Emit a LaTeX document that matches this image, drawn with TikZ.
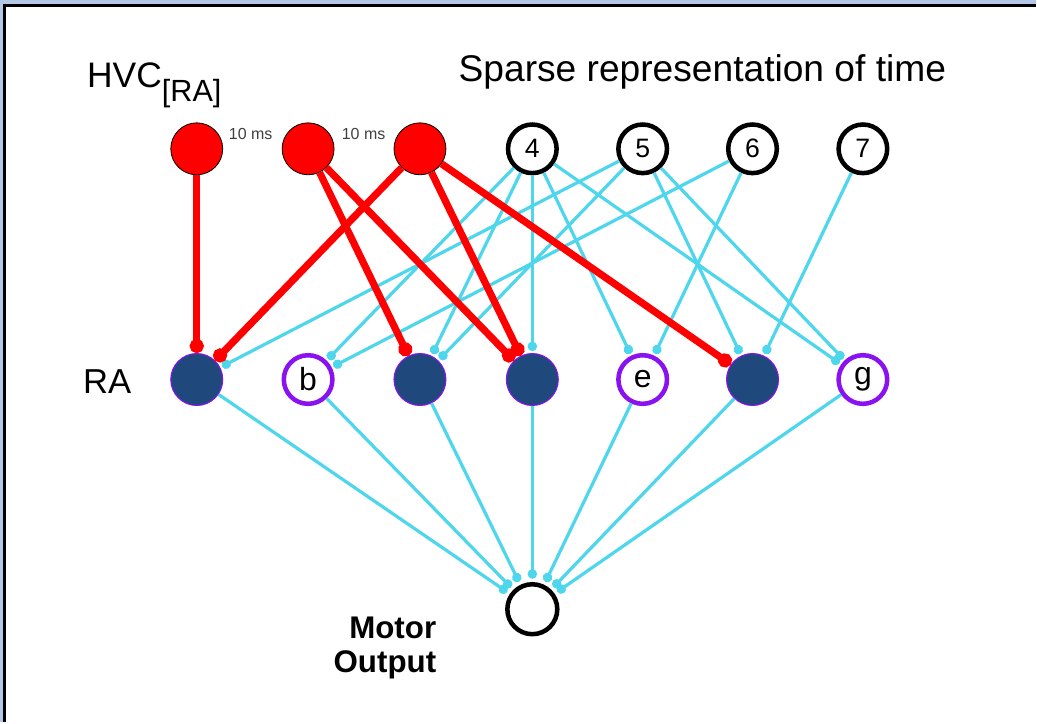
\documentclass[tikz,border=0pt]{standalone}
\usepackage{fontspec}
\setmainfont{Liberation Sans}
\usepackage{tikz}
\usetikzlibrary{arrows.meta}
\usepackage{xcolor}
\definecolor{framebg}{HTML}{B4C7E7}
\definecolor{syncyan}{HTML}{4ED6EC}
\definecolor{ranavy}{HTML}{1F497D}
\definecolor{rapurple}{HTML}{8A12F0}
\tikzstyle{txt} = [inner sep=0pt]
\tikzstyle{hvcon} = [circle, inner sep=0pt, minimum size=39pt, fill=red, draw=black, line width=0.6pt]
\tikzstyle{hvcoff} = [circle, inner sep=0pt, minimum size=36.5pt, draw=black, line width=3.4pt, font=\fontsize{20}{20}\selectfont]
\tikzstyle{raon} = [circle, inner sep=0pt, minimum size=39pt, fill=ranavy, draw=rapurple, line width=0.8pt]
\tikzstyle{raoff} = [circle, inner sep=0pt, minimum size=36.5pt, draw=rapurple, line width=3.4pt, font=\fontsize{24}{24}\selectfont]
\tikzstyle{motor} = [circle, inner sep=0pt, minimum size=37.5pt, draw=black, line width=3.4pt]
\tikzstyle{strong} = [line width=5.4pt, red, -{Circle[length=10.5pt]}]
\tikzstyle{weak} = [line width=2.4pt, syncyan, -{Circle[length=7pt]}, shorten >=1.5pt]

\begin{document}
\begin{tikzpicture}[x=0.75pt, y=-0.75pt]
        % frame
        \fill [framebg] (0,0) rectangle (1037,723);
        \fill [white] (5,6) rectangle (1037,723);
        \draw [line width=2pt] (4.5,723) -- (4.5,5.7) -- (1037,5.7);
        \useasboundingbox (0,0) rectangle (1037,723);

        % HVC(RA) neurons
        \node (hvc1) [hvcon] at (197,149) {};
        \node (hvc2) [hvcon] at (308.5,149) {};
        \node (hvc3) [hvcon] at (420.5,149) {};
        \node (hvc4) [hvcoff] at (533,149) {4};
        \node (hvc5) [hvcoff] at (643.5,149) {5};
        \node (hvc6) [hvcoff] at (753.5,149) {6};
        \node (hvc7) [hvcoff] at (864,149) {7};

        % RA neurons
        \node (raA) [raon] at (197,380) {};
        \node (raB) [raoff] at (308.5,380) {b};
        \node (raC) [raon] at (420.5,380) {};
        \node (raD) [raon] at (533,380) {};
        \node (raE) [raoff] at (643.5,380) {e};
        \node (raF) [raon] at (753.5,380) {};
        \node (raG) [raoff] at (864,380) {g};

        \node (out) [motor] at (533,610) {};

        % labels
        \node (hvclabel) [txt, anchor=base west, font=\fontsize{26.6}{30}\selectfont] at (87,88) {HVC\raisebox{-10.5pt}{\fontsize{23}{23}\selectfont[RA]}};
        \node (title) [txt, anchor=base west, font=\fontsize{27.9}{32}\selectfont] at (459,82) {Sparse representation of time};
        \node (ralabel) [txt, anchor=base west, font=\fontsize{26}{30}\selectfont] at (83,394) {RA};
        \node (outlabel) [txt, anchor=north east, align=right, font=\bfseries\fontsize{23.5}{26.25}\selectfont] at (437,617) {Motor\\Output};
        \node (gap1) [txt, anchor=base west, text=black!75, font=\fontsize{12}{12}\selectfont] at (229,140) {10 ms};
        \node (gap2) [txt, anchor=base west, text=black!75, font=\fontsize{12}{12}\selectfont] at (342,140) {10 ms};

        % weak synapses
        \draw [weak] (hvc4) -- (raB);
        \draw [weak] (hvc4) -- (raC);
        \draw [weak] (hvc4) -- (raD);
        \draw [weak] (hvc4) -- (raE);
        \draw [weak] (hvc4) -- (raG);
        \draw [weak] (hvc5) -- (raA);
        \draw [weak] (hvc5) -- (raC);
        \draw [weak] (hvc5) -- (raF);
        \draw [weak] (hvc5) -- (raG);
        \draw [weak] (hvc6) -- (raB);
        \draw [weak] (hvc6) -- (raE);
        \draw [weak] (hvc7) -- (raF);

        % strong synapses
        \draw [strong] (hvc1) -- (raA);
        \draw [strong] (hvc3) -- (raA);
        \draw [strong] (hvc2) -- (raC);
        \draw [strong] (hvc2) -- (raD);
        \draw [strong] (hvc3) -- (raD);
        \draw [strong] (hvc3) -- (raF);

        % RA to motor output
        \draw [weak, shorten >=2.5pt] (raA) -- (out);
        \draw [weak, shorten >=2.5pt] (raB) -- (out);
        \draw [weak, shorten >=2.5pt] (raC) -- (out);
        \draw [weak, shorten >=2.5pt] (raD) -- (out);
        \draw [weak, shorten >=2.5pt] (raE) -- (out);
        \draw [weak, shorten >=2.5pt] (raF) -- (out);
        \draw [weak, shorten >=2.5pt] (raG) -- (out);
\end{tikzpicture}
\end{document}
